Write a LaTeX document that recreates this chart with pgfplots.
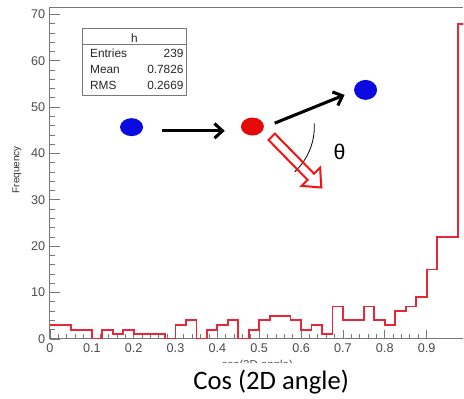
\documentclass[border=0pt]{standalone}
\usepackage{fontspec}
\setmainfont{Liberation Sans}
\newfontfamily\calibri{Carlito}
\usepackage{pgfplots}
\pgfplotsset{compat=1.18}
\usetikzlibrary{arrows.meta}
\definecolor{histred}{RGB}{232,40,55}
\definecolor{axgray}{RGB}{120,120,120}
\definecolor{labgray}{RGB}{75,75,75}
\definecolor{dotblue}{RGB}{10,10,225}
\definecolor{dotred}{RGB}{228,10,10}
\definecolor{arrred}{RGB}{245,20,20}

\pgfplotstableread{
x y
0.000 3
0.025 3
0.050 2
0.075 2
0.100 0
0.125 2
0.150 1
0.175 2
0.200 1
0.225 1
0.250 1
0.275 0
0.300 3
0.325 4
0.350 0
0.375 2
0.400 3
0.425 4
0.450 0
0.475 2
0.500 4
0.525 5
0.550 5
0.575 4
0.600 2
0.625 3
0.650 1
0.675 7
0.700 4
0.725 4
0.750 7
0.775 4
0.800 3
0.825 6
0.850 7
0.875 9
0.900 15
0.925 22
0.950 22
0.975 68
1.000 68
}\histdata

\begin{document}
\begin{tikzpicture}
\begin{scope}[x=0.75pt,y=0.75pt]
\useasboundingbox (0,0) rectangle (464,399);
\end{scope}
\begin{axis}[
  at={(37.5pt,44.775pt)}, anchor=south west,
  scale only axis, width=310.5pt, height=249.2pt,
  xmin=0, xmax=0.988, ymin=0, ymax=71.6,
  axis x line*=bottom, axis y line*=left,
  axis line style={axgray, line width=0.8pt, -},
  tick align=inside,
  xtick={0,0.1,0.2,0.3,0.4,0.5,0.6,0.7,0.8,0.9},
  ytick={0,10,20,30,40,50,60,70},
  minor x tick num=4, minor y tick num=4,
  major tick length=7.5pt, minor tick length=3.75pt,
  x tick style={/pgfplots/major tick length=6.75pt, /pgfplots/minor tick length=3.4pt},
  tick style={axgray, line width=0.6pt},
  /pgf/number format/assume math mode=true,
  x tick label style={/pgf/number format/fixed, /pgf/number format/precision=1},
  ticklabel style={font=\fontsize{9.5}{10}\selectfont, text=labgray},
  clip=true,
]
\addplot[const plot mark left, histred, line width=1.3pt] table[x=x,y=y] {\histdata};
\draw[axgray, line width=0.8pt] (rel axis cs:0,1) -- (rel axis cs:1,1);
\end{axis}
\begin{scope}[x=0.75pt,y=0.75pt]
% stats box
\draw[axgray, line width=0.6pt, fill=white] (82,371) rectangle (187,303);
\draw[axgray, line width=0.6pt] (82,355) -- (187,355);
\begin{scope}[font=\fontsize{8.9}{10}\selectfont, text=black!85]
\node at (134.5,361) {h};
\node[anchor=west, inner sep=0] at (90,346) {Entries};
\node[anchor=west, inner sep=0] at (90,329) {Mean};
\node[anchor=west, inner sep=0] at (90,313) {RMS};
\node[anchor=east, inner sep=0] at (184,346) {239};
\node[anchor=east, inner sep=0] at (184,329) {0.7826};
\node[anchor=east, inner sep=0] at (184,313) {0.2669};
\end{scope}
% diagram
\fill[dotblue] (131.7,271.7) ellipse (11.5 and 9);
\fill[dotred] (252.7,272.3) ellipse (11.5 and 9);
\fill[dotblue] (366,309) ellipse (11.5 and 10);
\draw[line width=2.3pt, -{Straight Barb[length=6pt,width=11pt]}] (161.7,268) -- (225,268);
\draw[line width=2.3pt, -{Straight Barb[length=6pt,width=11pt]}] (275,275.7) -- (345,304);
\draw[line width=0.6pt] (252.7,272.3) ++(3:62) arc[start angle=3, end angle=-47, radius=62];
\begin{scope}[shift={(272,262)}, rotate=-45.6]
\draw[arrred, line width=1.5pt, line join=miter] (0,4.5) -- (56,4.5) -- (56,13) -- (71,0) -- (56,-13) -- (56,-4.5) -- (0,-4.5) -- cycle;
\end{scope}
\node[font=\fontsize{16}{18}\selectfont] at (340,247) {θ};
% axis titles
\node[rotate=90, font=\fontsize{7.5}{9}\selectfont, text=black!80] at (17,229) {Frequency};
\node[anchor=north, inner sep=0, font=\fontsize{8.6}{10}\selectfont, text=labgray] at (257.5,38.5) {cos(2D angle)};
\fill[white] (140,0) rectangle (400,36);
\node[anchor=base, inner sep=0, font=\calibri\fontsize{20}{24}\selectfont] at (271.5,9) {Cos (2D angle)};
\end{scope}
\end{tikzpicture}
\end{document}
